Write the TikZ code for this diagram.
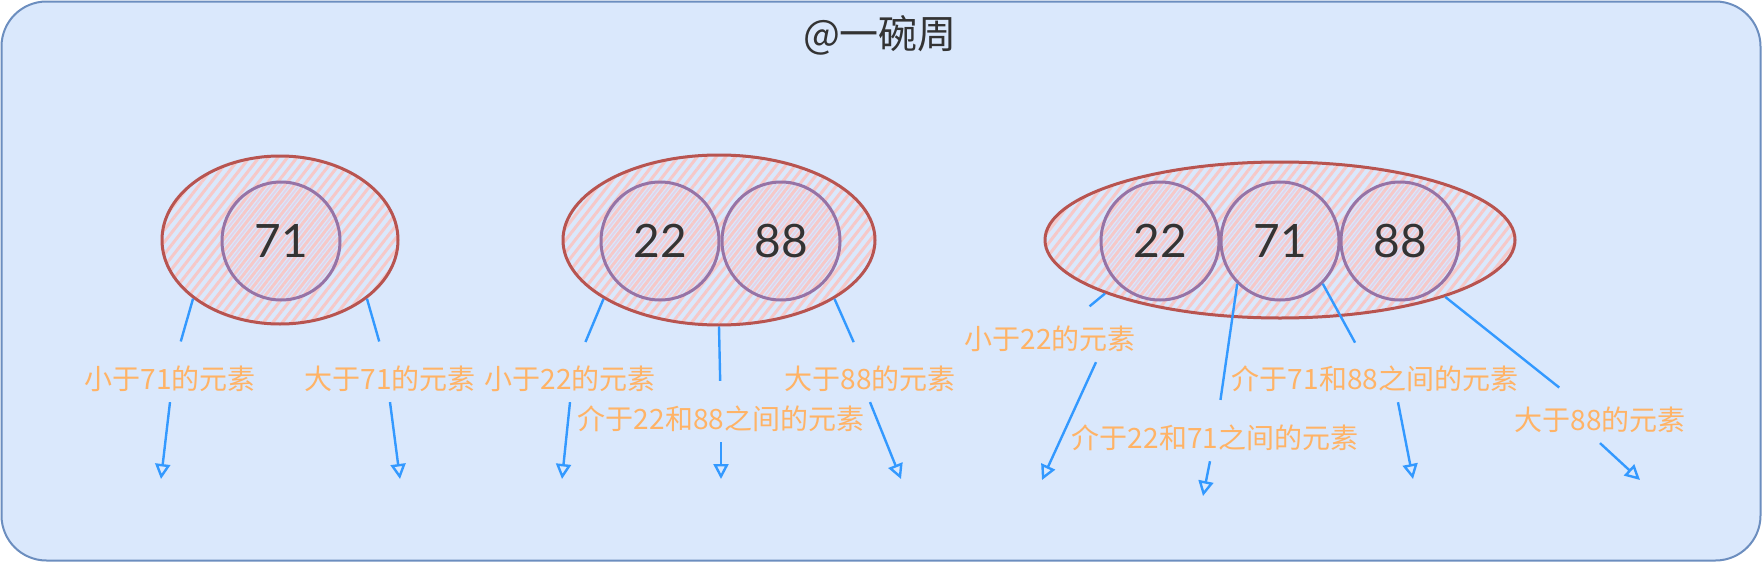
\documentclass[tikz,border=0pt]{standalone}
\usepackage{fontspec}
\usepackage{tikz}
\usetikzlibrary{shapes.geometric,arrows.meta,patterns.meta}
\newfontfamily\cjk{Noto Sans CJK SC}
\newfontfamily\numfont{Lato}
\definecolor{panelfill}{HTML}{DAE8FC}
\definecolor{paneldraw}{HTML}{6C8EBF}
\definecolor{ovaldraw}{HTML}{B85450}
\definecolor{ovalhatch}{HTML}{F6C8C8}
\definecolor{balldraw}{HTML}{9673A6}
\definecolor{ballhatch}{HTML}{E4D2E6}
\definecolor{linkblue}{HTML}{3399FF}
\definecolor{hintorange}{HTML}{FFB366}
\definecolor{titlegray}{HTML}{333333}
\tikzstyle{oval} = [ellipse, draw=ovaldraw, line width=3pt, pattern={Lines[angle=52,distance=7.5pt,line width=3pt]}, pattern color=ovalhatch]
\tikzstyle{keyball} = [circle, minimum size=118pt, draw=balldraw, line width=3pt, pattern={Lines[angle=52,distance=7.5pt,line width=1.8pt,xshift=4.8pt]}, pattern color=ballhatch, text=titlegray, font=\numfont\fontsize{46}{46}\selectfont]
\tikzstyle{hint} = [text=hintorange, font=\cjk\fontsize{28}{30}\selectfont, inner xsep=4pt, inner ysep=10pt]
\tikzstyle{link} = [draw=linkblue, line width=2.4pt]
\tikzstyle{tohint} = [shorten >=15pt]
\tikzstyle{pointer} = [-{Triangle[open,length=15pt,width=15pt]}]

\begin{document}
\begin{tikzpicture}[x=1pt,y=-1pt]
    \useasboundingbox (0,0) rectangle (1762,562);
    \draw[draw=paneldraw, fill=panelfill, line width=2pt, rounded corners=45pt] (1.5,1.5) rectangle (1760.5,560.5);
    \node[font=\cjk\fontsize{39}{42}\selectfont, text=titlegray] (title) at (880,35) {@一碗周};

    \node[oval, minimum width=236pt, minimum height=168pt] (set71) at (280,240) {};
    \node[keyball] (k71) at (281,241) {71};
    \node[oval, minimum width=312pt, minimum height=170pt] (set2288) at (719,240) {};
    \node[keyball] (k22) at (660,241) {22};
    \node[keyball] (k88) at (781,241) {88};
    \node[oval, minimum width=470pt, minimum height=156pt] (set227188) at (1280,240) {};
    \node[keyball] (m22) at (1160,241) {22};
    \node[keyball] (m71) at (1280,241) {71};
    \node[keyball] (m88) at (1400,241) {88};

    \node[hint] (lt71) at (170,379) {小于71的元素};
    \node[hint] (gt71) at (390,379) {大于71的元素};
    \node[hint] (lt22) at (570,379) {小于22的元素};
    \node[hint] (in2288) at (721,419) {介于22和88之间的元素};
    \node[hint] (gt88) at (870,379) {大于88的元素};
    \node[hint] (lt22b) at (1050,339) {小于22的元素};
    \node[hint] (in2271) at (1215,438) {介于22和71之间的元素};
    \node[hint] (in7188) at (1375,379) {介于71和88之间的元素};
    \node[hint] (gt88b) at (1600,420) {大于88的元素};

    \coordinate (t1) at (161,479);
    \coordinate (t2) at (400,479);
    \coordinate (t3) at (562,479);
    \coordinate (t4) at (721,479);
    \coordinate (t5) at (901,479);
    \coordinate (t6) at (1042,480);
    \coordinate (t7) at (1203,496);
    \coordinate (t8) at (1413,479);
    \coordinate (t9) at (1640,480);

    \begin{scope}[link]
        \draw[tohint] (set71.214) -- (lt71);
        \draw[pointer] (lt71.south) -- (t1);
        \draw[tohint] (set71.326) -- (gt71);
        \draw[pointer] (gt71.south) -- (t2);
        \draw[tohint] (set2288.207) -- (lt22);
        \draw[pointer] (lt22.south) -- (t3);
        \draw[tohint] (set2288.south) -- (in2288);
        \draw[pointer] (in2288.south) -- (t4);
        \draw[tohint] (set2288.333) -- (gt88);
        \draw[pointer] (gt88.south) -- (t5);
        \draw[tohint] (set227188.197) -- (lt22b);
        \draw[pointer] ([xshift=46pt]lt22b.south) -- (t6);
        \draw[tohint] (m71.225) -- (in2271);
        \draw[pointer] ([xshift=-5pt]in2271.south) -- (t7);
        \draw[tohint] (m71.315) -- (in7188);
        \draw[pointer] ([xshift=23pt]in7188.south) -- (t8);
        \draw[tohint] (set227188.341) -- (gt88b);
        \draw[pointer] (gt88b.south) -- (t9);
    \end{scope}
\end{tikzpicture}
\end{document}
